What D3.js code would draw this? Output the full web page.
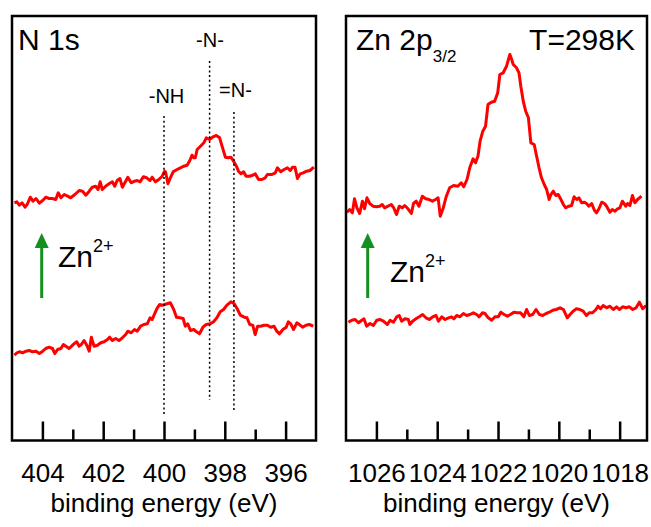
<!DOCTYPE html>
<html>
<head>
<meta charset="utf-8">
<script src="https://cdn.jsdelivr.net/npm/d3@7"></script>
<style>
  body { margin: 0; background: #fff; }
  svg text { font-family: "Liberation Sans", Arial, sans-serif; fill: #000; }
</style>
</head>
<body>
<svg width="651" height="527"></svg>
<script>
'use strict';

// N 1s, upper trace (with Zn2+)
var nTopE = [404.92,404.84,404.76,404.67,404.57,404.49,404.40,404.31,404.21,404.10,403.99,403.89,403.78,403.67,403.56,403.48,403.39,403.28,403.17,403.07,402.93,402.79,402.68,402.57,402.46,402.36,402.25,402.17,402.10,402.03,401.92,401.81,401.70,401.62,401.54,401.45,401.37,401.26,401.19,401.08,400.97,400.88,400.79,400.68,400.57,400.46,400.39,400.28,400.17,400.06,399.98,399.95,399.87,399.79,399.70,399.57,399.46,399.35,399.24,399.15,399.08,399.02,398.97,398.91,398.80,398.69,398.61,398.50,398.39,398.28,398.17,398.09,397.98,397.88,397.80,397.71,397.62,397.55,397.47,397.38,397.30,397.19,397.08,397.00,396.89,396.78,396.67,396.60,396.45,396.34,396.27,396.16,396.05,395.94,395.85,395.77,395.69,395.61,395.52,395.42,395.31,395.20,395.07];
var nTopI = [237.7,238.7,235.3,237.7,233.3,236.7,243.3,239.3,242,237.3,240,243.3,242,242,241,247.7,242.7,246,244.3,242.7,246,250,249.3,245.3,249.3,253.3,254.3,251,258.7,251,254.3,256.7,258.7,254.3,260,262,253.3,259.3,263.3,257.7,259.3,260,258.7,263.7,262.7,260,263.3,258.7,261,264.3,269.3,268.7,256.7,262.7,268.7,271,272.7,274.3,275.3,280,285.3,282.7,282.7,291,294.3,297.7,302.7,301,303.7,305,302.7,294.3,283.3,282.7,283.3,279.3,274.3,269.3,266.7,268.7,264.3,264.3,265.3,266.7,261,261,262.7,266,266,267.7,272.7,268.7,271,272.7,270,273.3,273.3,262,266.7,267.7,269.3,270,273.3];

// N 1s, lower trace
var nBotE = [404.92,404.84,404.76,404.65,404.54,404.43,404.32,404.21,404.10,403.99,403.89,403.78,403.67,403.59,403.50,403.39,403.31,403.23,403.12,403.04,402.96,402.87,402.79,402.72,402.63,402.54,402.46,402.39,402.30,402.19,402.08,401.97,401.86,401.79,401.70,401.59,401.48,401.37,401.26,401.19,401.08,400.97,400.88,400.77,400.66,400.55,400.46,400.39,400.31,400.22,400.14,400.06,399.98,399.90,399.79,399.68,399.59,399.48,399.37,399.30,399.22,399.13,399.02,398.93,398.83,398.72,398.61,398.48,398.37,398.26,398.15,398.04,397.93,397.80,397.69,397.58,397.49,397.36,397.27,397.18,397.08,397.00,396.92,396.82,396.71,396.60,396.49,396.38,396.29,396.20,396.09,395.98,395.91,395.83,395.74,395.63,395.55,395.44,395.33,395.22,395.09];
var nBotI = [85.3,87.7,88.7,87.7,89.3,90,88.7,89.3,87,89.3,92,93.3,92,87,91,92,96,94.3,92,94.3,96.7,98.7,94.3,96,100,95.3,89.3,103.3,94.3,95.3,97.7,98.7,101,103.3,100,102,100,102.7,106,109.3,107.7,111,109.3,114.3,116,116.7,122.7,121,126.7,132.7,136,135.3,136,136.7,137.7,131,123.3,122.7,122,114.3,116.7,110,111,108.7,106.7,113.3,116,116.7,118.7,122.7,128.7,131,135.3,138.7,136.7,131,125.3,123.3,122.7,116,115.3,106,114.3,114.3,115.3,115.3,113.3,114.3,109.3,106.7,111,113.3,118.7,116.7,111,117.7,116,113.3,115.3,116,114.3];

// Zn 2p3/2, upper trace (with Zn2+)
var zTopE = [1026.97,1026.88,1026.79,1026.72,1026.64,1026.55,1026.46,1026.39,1026.31,1026.22,1026.11,1026.00,1025.89,1025.81,1025.73,1025.62,1025.51,1025.43,1025.34,1025.25,1025.15,1025.07,1024.96,1024.85,1024.78,1024.69,1024.60,1024.49,1024.38,1024.27,1024.16,1024.05,1023.97,1023.90,1023.81,1023.70,1023.59,1023.46,1023.32,1023.21,1023.13,1023.02,1022.93,1022.82,1022.74,1022.66,1022.59,1022.50,1022.41,1022.33,1022.22,1022.11,1022.01,1021.94,1021.83,1021.72,1021.61,1021.55,1021.50,1021.39,1021.31,1021.25,1021.17,1021.09,1021.00,1020.92,1020.81,1020.73,1020.65,1020.57,1020.48,1020.40,1020.32,1020.26,1020.18,1020.10,1020.02,1019.93,1019.85,1019.78,1019.67,1019.58,1019.50,1019.41,1019.34,1019.25,1019.16,1019.09,1019.01,1018.92,1018.83,1018.76,1018.68,1018.59,1018.50,1018.43,1018.32,1018.24,1018.15,1018.07,1017.99,1017.91,1017.80,1017.74,1017.66,1017.58,1017.50,1017.41,1017.28];
var zTopI = [228.3,231,227.7,241.7,232.7,227,239.3,231.7,242.7,237,234.3,233.7,234.3,236,232.7,234.3,236,232.7,226,234.3,232.7,235,231.7,227,237,239.3,234.3,244.3,241.7,241,239.3,241,242.7,224.3,231.7,244.3,252.7,255,254.3,257.7,253.7,261,272.7,281.7,277.7,284.3,299.3,309.3,314.3,336,338.3,339.3,347.7,366,367.7,374.3,386,381,376,372.7,367.7,354.3,339.3,329.3,322.7,297.7,296,284.3,272.7,262.7,256,251,241,246,249.3,245,246,241,236,232.7,234.3,235,243.7,241,242.7,237.7,238.3,237,234.3,237,230.3,227.7,231.7,238.3,237,234.3,228.3,231,229.3,231.7,232.7,239.3,234.3,237,235,245,237.7,241,244.3];

// Zn 2p3/2, lower trace
var zBotE = [1026.92,1026.81,1026.70,1026.59,1026.48,1026.41,1026.32,1026.21,1026.10,1025.99,1025.88,1025.77,1025.64,1025.55,1025.44,1025.33,1025.25,1025.17,1025.06,1024.95,1024.90,1024.81,1024.70,1024.59,1024.48,1024.37,1024.26,1024.15,1024.04,1023.96,1023.85,1023.74,1023.63,1023.53,1023.45,1023.36,1023.25,1023.14,1023.03,1022.92,1022.81,1022.70,1022.62,1022.51,1022.43,1022.32,1022.21,1022.10,1021.99,1021.91,1021.80,1021.69,1021.59,1021.48,1021.37,1021.26,1021.15,1021.06,1020.97,1020.86,1020.75,1020.64,1020.53,1020.42,1020.31,1020.20,1020.09,1019.96,1019.85,1019.72,1019.63,1019.53,1019.42,1019.31,1019.20,1019.09,1019.00,1018.89,1018.78,1018.71,1018.63,1018.54,1018.43,1018.32,1018.21,1018.10,1018.01,1017.90,1017.79,1017.68,1017.57,1017.46,1017.35,1017.24,1017.13];
var zBotI = [118.3,120.3,121,117.7,120.3,121.7,114.3,117,115,120.3,121,119.3,116,120.3,118.3,123.7,125,119.3,121.7,121,116,119.3,121.7,123.7,126,122.7,121,123.7,125,119.3,123.7,121,122.7,123.7,121.7,125,123.7,127,125,126,127.7,126,123.7,127.7,127,122.7,120.3,123.7,123.7,128.3,126,124.3,126,128.3,127.7,127.7,123.7,131,125,126,131,126,125,127,128.3,130.3,131,132.7,131,122.7,126,129.3,131.7,131,129.3,125,127.7,127.7,131,134.3,131.7,135,132.7,134.3,131,133.7,131,133.7,132.7,133.7,131,132.7,138.3,131.7,135];

var nMajor = [404, 402, 400, 398, 396];
var nMinor = [403, 401, 399, 397];
var zMajor = [1026, 1024, 1022, 1020, 1018];
var zMinor = [1025, 1023, 1021, 1019];

var peakE = [400.0, 398.5, 397.7];
var peakLabels = ['-NH', '-N-', '=N-'];

var svg = d3.select('svg');
var FONT = 26;
var yTop = 16, yBot = 440.5;

// same intensity scale (a.u.) for both panels
var y = d3.scaleLinear().domain([0, 424.5]).range([yBot, yTop]);

var xN = d3.scaleLinear().domain([405, 395]).range([12, 316]);
var xZ = d3.scaleLinear().domain([1027, 1017.1]).range([346, 647]);

function drawPanel(x, major, minor, traces){
    var g = svg.append('g');

    // minor ticks (inward)
    var minorAxis = d3.axisBottom(x).tickValues(minor).tickSize(-11).tickFormat('');
    g.append('g').attr('transform', 'translate(0,' + yBot + ')').call(minorAxis);

    var majorAxis = d3.axisBottom(x).tickValues(major).tickSize(-19)
                    .tickPadding(23).tickFormat(d3.format('d'));
    g.append('g').attr('transform', 'translate(0,' + yBot + ')').call(majorAxis);

    g.selectAll('.domain').remove();
    g.selectAll('.tick line').attr('stroke', '#000').attr('stroke-width', 2.5);
    g.selectAll('.tick text').style('font-size', FONT + 'px').attr('fill', '#000');

    var line = d3.line()
                .x(function(d){ return x(d[0]); })
                .y(function(d){ return y(d[1]); });

    g.selectAll('path.trace')
        .data(traces)
        .enter().append('path')
            .attr('class', 'trace')
            .attr('d', line)
            .attr('fill', 'none')
            .attr('stroke', '#ff0000')
            .attr('stroke-width', 3)
            .attr('stroke-linejoin', 'round');

    var r = x.range();
    g.append('rect')
        .attr('x', r[0]).attr('y', yTop)
        .attr('width', r[1] - r[0]).attr('height', yBot - yTop)
        .attr('fill', 'none').attr('stroke', '#000').attr('stroke-width', 2.5);

    g.append('text')
        .attr('x', (r[0] + r[1]) / 2).attr('y', 512)
        .attr('text-anchor', 'middle')
        .style('font-size', FONT + 'px')
        .text('binding energy (eV)');
    return g;
}

var gN = drawPanel(xN, nMajor, nMinor, [d3.zip(nTopE, nTopI), d3.zip(nBotE, nBotI)]);
var gZ = drawPanel(xZ, zMajor, zMinor, [d3.zip(zTopE, zTopI), d3.zip(zBotE, zBotI)]);

// dotted guides for the N species
var guideTop = [116, 61, 112], guideBot = [415, 400, 410];
var labelPos = [[166.5, 103], [210, 47], [235.5, 97]];
peakE.forEach(function(e, i){
    gN.append('line')
        .attr('x1', xN(e)).attr('x2', xN(e))
        .attr('y1', guideTop[i]).attr('y2', guideBot[i])
        .attr('stroke', '#000').attr('stroke-width', 1.5)
        .attr('stroke-dasharray', '2,2.7');
    gN.append('text')
        .attr('x', labelPos[i][0]).attr('y', labelPos[i][1])
        .attr('text-anchor', 'middle')
        .style('font-size', '20px')
        .text(peakLabels[i]);
});

gN.append('text').attr('x', 18).attr('y', 50).style('font-size', '30px').text('N 1s');

var zt = gZ.append('text').attr('x', 356).attr('y', 50).style('font-size', '30px');
zt.append('tspan').text('Zn 2p');
zt.append('tspan').attr('dy', 12).style('font-size', '17px').text('3/2');

gZ.append('text').attr('x', 635).attr('y', 50).attr('text-anchor', 'end')
    .style('font-size', '30px').text('T=298K');

// green arrows + Zn2+ labels
function zincArrow(g, ax, tx, ty){
    g.append('line')
        .attr('x1', ax).attr('x2', ax).attr('y1', 298).attr('y2', 244)
        .attr('stroke', '#14901e').attr('stroke-width', 3);
    g.append('path')
        .attr('d', 'M' + (ax - 7) + ',248L' + ax + ',233L' + (ax + 7) + ',248Z')
        .attr('fill', '#14901e');
    var t = g.append('text').attr('x', tx).attr('y', ty).style('font-size', '30px');
    t.append('tspan').text('Zn');
    t.append('tspan').attr('dy', -15).style('font-size', '18px').text('2+');
}
zincArrow(gN, 41.7, 58, 267);
zincArrow(gZ, 367.7, 390, 282);
</script>
</body>
</html>
